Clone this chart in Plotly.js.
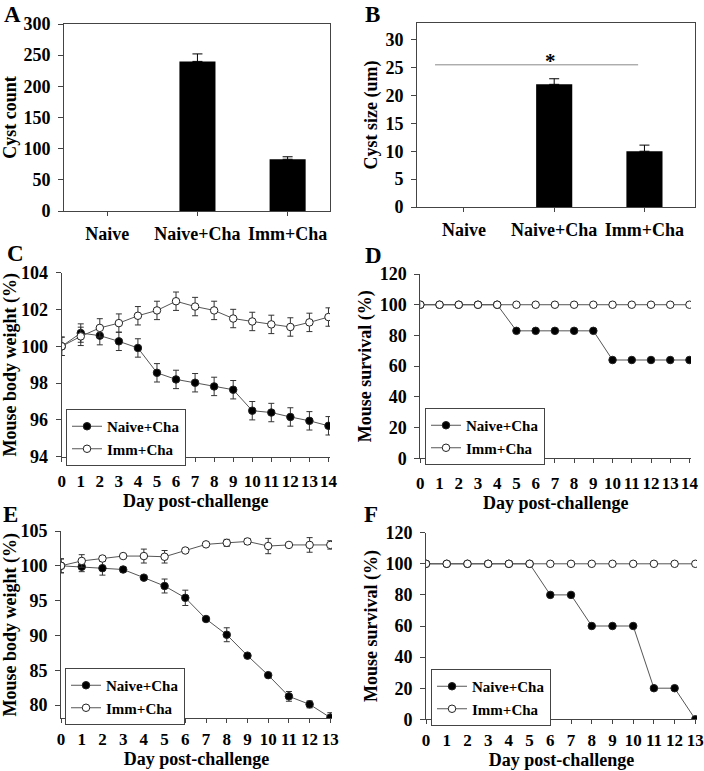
<!DOCTYPE html>
<html>
<head>
<meta charset="utf-8">
<script src="https://cdn.plot.ly/plotly-3.0.1.min.js"></script>
<style>
  body { margin: 0; background: #fff; }
  #fig { width: 704px; height: 771px; }
</style>
</head>
<body>
<div id="fig"></div>
<script>
// A, B: cyst count / size (no error bar for Naive)
const groups = ["Naive", "Naive+Cha", "Imm+Cha"];
const cystCount = [0, 240, 83];
const cystCountErr = [NaN, 12, 4];
const cystSize = [0, 22, 10];
const cystSizeErr = [NaN, 1.0, 1.1];
const sigSpan = [-0.32, 1.93];
const sigLevel = 25.5;

// C, D: 14 day challenge
const daysCD = [0, 1, 2, 3, 4, 5, 6, 7, 8, 9, 10, 11, 12, 13, 14];
const weightNaiveC = [100, 100.72, 100.58, 100.27, 99.91, 98.56, 98.2, 98.02, 97.82, 97.64, 96.5, 96.4, 96.16, 95.95, 95.68];
const weightImmC = [100, 100.54, 101.0, 101.26, 101.66, 101.95, 102.45, 102.16, 101.95, 101.51, 101.35, 101.19, 101.05, 101.3, 101.59];
const errNaiveC = [0.5, 0.5, 0.5, 0.5, 0.5, 0.5, 0.5, 0.5, 0.5, 0.5, 0.5, 0.5, 0.5, 0.5, 0.5];
const errImmC = [0.5, 0.5, 0.5, 0.5, 0.5, 0.5, 0.5, 0.5, 0.5, 0.5, 0.5, 0.5, 0.5, 0.5, 0.5];
const survNaiveD = [100, 100, 100, 100, 100, 83, 83, 83, 83, 83, 64, 64, 64, 64, 64];
const survImmD = [100, 100, 100, 100, 100, 100, 100, 100, 100, 100, 100, 100, 100, 100, 100];

// E, F: 13 day challenge
const daysEF = [0, 1, 2, 3, 4, 5, 6, 7, 8, 9, 10, 11, 12, 13];
const weightNaiveE = [100, 99.86, 99.66, 99.47, 98.3, 97.1, 95.4, 92.36, 90.1, 87.1, 84.3, 81.25, 80.1, 78.2];
const errNaiveE = [1.0, 0.7, 1.0, 0.4, 0.2, 1.0, 1.1, 0.3, 1.0, 0.3, 0.3, 0.7, 0.5, 0.7];
const weightImmE = [100, 100.7, 101.05, 101.4, 101.4, 101.3, 102.2, 103.08, 103.3, 103.5, 102.84, 103.0, 103.0, 103.0];
const errImmE = [1.0, 0.9, 0.3, 0.2, 1.0, 0.9, 0.2, 0.3, 0.5, 0.4, 1.1, 0.2, 1.05, 0.6];
const survNaiveF = [100, 100, 100, 100, 100, 100, 80, 80, 60, 60, 60, 20, 20, 0];
const survImmF = [100, 100, 100, 100, 100, 100, 100, 100, 100, 100, 100, 100, 100, 100];

const W = 704, H = 771;
const px = (a, b) => [a / W, b / W];
const py = (top, bottom) => [1 - bottom / H, 1 - top / H];

const serif = "'Liberation Serif', 'Times New Roman', serif";
const tickFont = { family: serif, size: 18, weight: 700, color: "#000" };
const titleFont = { family: serif, size: 18, weight: 700, color: "#000" };
const lineGray = "#555";

function bars(y, err, xa, ya) {
  return {
    type: "bar", x: groups, y: y, xaxis: xa, yaxis: ya, width: 0.4,
    marker: { color: "#000", line: { width: 0 } },
    error_y: { type: "data", array: err, arrayminus: err.map(e => isNaN(e) ? NaN : 0), symmetric: false,
               color: "#000", thickness: 1, width: 5 },
    showlegend: false, hoverinfo: "skip"
  };
}

function series(x, y, err, filled, xa, ya, legend) {
  let t = {
    type: "scatter", mode: "lines+markers", x: x, y: y, xaxis: xa, yaxis: ya,
    name: filled ? "Naive+Cha" : "Imm+Cha",
    legend: legend, showlegend: true,
    line: { color: lineGray, width: 1 },
    marker: { size: 7.5, color: filled ? "#000" : "#fff", line: { color: "#222", width: 1 } },
    hoverinfo: "skip"
  };
  if (err) {
    t.error_y = { type: "data", array: err, color: "#333", thickness: 1, width: 3 };
  }
  return t;
}

let traces = [
  bars(cystCount, cystCountErr, "x", "y"),
  bars(cystSize, cystSizeErr, "x2", "y2"),
  series(daysCD, weightNaiveC, errNaiveC, true, "x3", "y3", "legend"),
  series(daysCD, weightImmC, errImmC, false, "x3", "y3", "legend"),
  series(daysCD, survNaiveD, null, true, "x4", "y4", "legend2"),
  series(daysCD, survImmD, null, false, "x4", "y4", "legend2"),
  series(daysEF, weightNaiveE, errNaiveE, true, "x5", "y5", "legend3"),
  series(daysEF, weightImmE, errImmE, false, "x5", "y5", "legend3"),
  series(daysEF, survNaiveF, null, true, "x6", "y6", "legend4"),
  series(daysEF, survImmF, null, false, "x6", "y6", "legend4")
];

function axis(extra) {
  return Object.assign({
    showline: true, linecolor: "#444", linewidth: 1,
    ticks: "outside", tickcolor: "#444", ticklen: 5, tickwidth: 1,
    showgrid: false, zeroline: false, tickfont: tickFont,
    tickangle: 0, fixedrange: true, ticklabelstandoff: 4
  }, extra);
}

function xTitle(text) {
  return { text: text, font: titleFont, standoff: 0 };
}
function yTitle(text) {
  return { text: text, font: titleFont, standoff: 3 };
}

function legendBox(x, y) {
  return {
    x: x / W, y: 1 - y / H, xanchor: "left", yanchor: "top",
    bgcolor: "#fff", bordercolor: "#444", borderwidth: 1,
    font: { family: serif, size: 15, weight: 700, color: "#000" },
    itemwidth: 30, tracegroupgap: 0
  };
}

function letter(text, x, y) {
  return {
    text: text, xref: "paper", yref: "paper", x: x / W, y: 1 - y / H,
    xanchor: "left", yanchor: "top", showarrow: false,
    font: { family: serif, size: 23, weight: 700, color: "#000" }
  };
}

const dayTicks = { dtick: 1, ticklen: 4, tickfont: Object.assign({}, tickFont, { size: 17 }) };

let layout = {
  width: W, height: H,
  margin: { l: 0, r: 0, t: 0, b: 0 },
  paper_bgcolor: "#fff", plot_bgcolor: "#fff",
  font: { family: serif },

  xaxis: axis({ domain: px(64, 330), anchor: "y", type: "category", range: [-0.48, 2.47],
                mirror: true, ticklen: 4, ticklabelstandoff: 2 }),
  yaxis: axis({ domain: py(24, 211), anchor: "x", range: [0, 300], dtick: 50, mirror: true,
                title: yTitle("Cyst count") }),

  xaxis2: axis({ domain: px(417, 695), anchor: "y2", type: "category", range: [-0.52, 2.56],
                 mirror: true, ticklen: 4, ticklabelstandoff: 2 }),
  yaxis2: axis({ domain: py(23, 207), anchor: "x2", range: [0, 33], dtick: 5, mirror: true,
                 title: yTitle("Cyst size (um)") }),

  xaxis3: axis(Object.assign({ domain: px(61.7, 330), anchor: "y3", range: [0, 14.08],
                 ticklabelstandoff: 5, title: xTitle("Day post-challenge") }, dayTicks)),
  yaxis3: axis({ domain: py(272.7, 456.7), anchor: "x3", range: [94, 104], dtick: 2,
                 title: yTitle("Mouse body weight (%)") }),

  xaxis4: axis(Object.assign({ domain: px(420.3, 691), anchor: "y4", range: [0, 14.08],
                 ticklabelstandoff: 5, title: xTitle("Day post-challenge") }, dayTicks)),
  yaxis4: axis({ domain: py(274, 458.3), anchor: "x4", range: [0, 120], dtick: 20,
                 title: yTitle("Mouse survival (%)") }),

  xaxis5: axis(Object.assign({ domain: px(61, 332), anchor: "y5", range: [0, 13.08],
                 ticklabelstandoff: 1, title: xTitle("Day post-challenge") }, dayTicks)),
  yaxis5: axis({ domain: py(531, 718.3), anchor: "x5", range: [78.1, 105], tick0: 80, dtick: 5,
                 title: yTitle("Mouse body weight (%)") }),

  xaxis6: axis(Object.assign({ domain: px(426, 697), anchor: "y6", range: [0, 13.08],
                 ticklabelstandoff: 1, title: xTitle("Day post-challenge") }, dayTicks)),
  yaxis6: axis({ domain: py(532.7, 719.3), anchor: "x6", range: [0, 120], dtick: 20,
                 title: yTitle("Mouse survival (%)") }),

  legend: legendBox(66, 409),
  legend2: legendBox(425, 408),
  legend3: legendBox(65, 668),
  legend4: legendBox(431, 669),

  shapes: [{
    type: "line", xref: "x2", yref: "y2", x0: sigSpan[0], x1: sigSpan[1],
    y0: sigLevel, y1: sigLevel, line: { color: "#888", width: 1 }
  }],

  annotations: [
    { text: "*", xref: "x2", yref: "y2", x: (sigSpan[0] + sigSpan[1]) / 2 + 0.15, y: sigLevel,
      yanchor: "bottom", yshift: -10, showarrow: false,
      font: { family: serif, size: 21, weight: 700, color: "#000" } },
    letter("A", 2, 0),
    letter("B", 363, 0),
    letter("C", 5, 239),
    letter("D", 363, 241),
    letter("E", 1, 500),
    letter("F", 362, 500)
  ]
};

Plotly.newPlot("fig", traces, layout, { displayModeBar: false, staticPlot: true });
</script>
</body>
</html>
